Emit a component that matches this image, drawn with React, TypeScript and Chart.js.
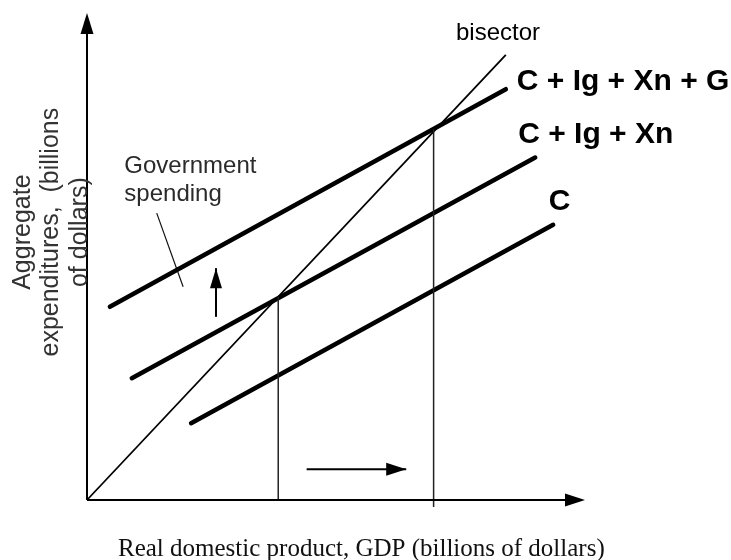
import React, { useEffect, useRef } from "react";
import { Chart, registerables } from "chart.js";

Chart.register(...registerables);

// ---- Axis ranges (billions of dollars) ----
const X_MAX = 100;
const Y_MAX = 92;

// ---- Schedules (x = real GDP, y = aggregate expenditures) ----
const bisectorPts = [
  { x: 0, y: 0 },
  { x: 84.1, y: 84.1 },
];
const consumptionPts = [
  { x: 20.9, y: 14.5 },
  { x: 93.6, y: 52.0 },
];
const cIgXnPts = [
  { x: 9.0, y: 23.0 },
  { x: 90.0, y: 64.7 },
];
const cIgXnGPts = [
  { x: 4.6, y: 36.5 },
  { x: 84.1, y: 77.6 },
];

// ---- Equilibrium output levels ----
const equilibriumGDP = [38.4, 69.6];
const equilibriumTop = [38.4, 70.0];
const equilibriumBottom = [0, -1.3];

// ---- Annotation marks ----
const leaderPts = [
  { x: 14.0, y: 54.2 },
  { x: 19.3, y: 40.3 },
];
const upArrowPts = [
  { x: 25.9, y: 34.6 },
  { x: 25.9, y: 43.8 },
];
const rightArrowPts = [
  { x: 44.1, y: 5.8 },
  { x: 64.1, y: 5.8 },
];

// ---- Texts ----
const curveLabels = ["bisector", "C + Ig + Xn + G", "C + Ig + Xn", "C"];
const curveLabelX = [74.1, 86.3, 86.6, 92.7];
const curveLabelY = [86.9, 77.5, 67.4, 54.8];
const govLabel = ["Government", "spending"];
const govLabelX = 7.5;
const govLabelY = [61.7, 56.4];
const yTitle = ["Aggregate", "expenditures,  (billions", "of dollars)"];
const yTitleCenter = 50.6;
const xTitle = "Real domestic product, GDP (billions of dollars)";

const SANS = '"Liberation Sans", Arial, Helvetica, sans-serif';
const SERIF = '"Liberation Serif", "Times New Roman", Times, serif';

function arrowHead(
  ctx: CanvasRenderingContext2D,
  tx: number,
  ty: number,
  dx: number,
  dy: number,
  len: number,
  half: number
) {
  const bx = tx - dx * len;
  const by = ty - dy * len;
  const px = -dy;
  const py = dx;
  ctx.beginPath();
  ctx.moveTo(tx, ty);
  ctx.lineTo(bx + px * half, by + py * half);
  ctx.lineTo(bx - px * half, by - py * half);
  ctx.closePath();
  ctx.fill();
}

const annotationPlugin = {
  id: "annotations",
  afterDatasetsDraw(chart: any) {
    const { ctx, scales, chartArea } = chart;
    const xs = scales.x;
    const ys = scales.y;
    const X = (v: number) => xs.getPixelForValue(v);
    const Y = (v: number) => ys.getPixelForValue(v);
    ctx.save();
    ctx.fillStyle = "#000";
    // axis arrow heads
    arrowHead(ctx, X(X_MAX), Y(0), 1, 0, 20, 6.5);
    arrowHead(ctx, X(0), Y(Y_MAX), 0, -1, 21, 6.5);
    // shift arrows
    const up = upArrowPts[1];
    arrowHead(ctx, X(up.x), Y(up.y), 0, -1, 20, 6);
    const rt = rightArrowPts[1];
    arrowHead(ctx, X(rt.x), Y(rt.y), 1, 0, 20, 6.5);

    // curve labels
    ctx.textAlign = "left";
    ctx.textBaseline = "alphabetic";
    curveLabels.forEach((t, i) => {
      ctx.font = i === 0 ? `24px ${SANS}` : `bold 30px ${SANS}`;
      ctx.fillStyle = "#000";
      ctx.fillText(t, X(curveLabelX[i]), Y(curveLabelY[i]));
    });

    // government spending label
    ctx.font = `24px ${SANS}`;
    ctx.fillStyle = "#2b2b2b";
    govLabel.forEach((t, i) => {
      ctx.fillText(t, X(govLabelX), Y(govLabelY[i]));
    });

    // y-axis title (rotated)
    ctx.font = `25px ${SANS}`;
    ctx.fillStyle = "#333";
    ctx.textAlign = "center";
    const baseOffsets = [-57, -29.5, 0.3];
    yTitle.forEach((t, i) => {
      ctx.save();
      ctx.translate(chartArea.left + baseOffsets[i], Y(yTitleCenter));
      ctx.rotate(-Math.PI / 2);
      ctx.fillText(t, 0, 0);
      ctx.restore();
    });

    // x-axis title
    ctx.font = `25px ${SERIF}`;
    ctx.fillStyle = "#111";
    ctx.textAlign = "left";
    ctx.fillText(xTitle, chartArea.left + 31, chartArea.bottom + 56);
    ctx.restore();
  },
};

function seg(
  data: { x: number; y: number }[],
  width: number,
  cap: CanvasLineCap = "butt",
  color = "#000"
) {
  return {
    type: "line" as const,
    data,
    borderColor: color,
    borderWidth: width,
    borderCapStyle: cap,
    pointRadius: 0,
    fill: false,
    tension: 0,
    clip: false as any,
  };
}

export default function App() {
  const canvasRef = useRef<HTMLCanvasElement | null>(null);

  useEffect(() => {
    if (!canvasRef.current) return;
    const datasets = [
      // axes
      seg([{ x: 0, y: 0 }, { x: X_MAX - 1, y: 0 }], 2),
      seg([{ x: 0, y: 0 }, { x: 0, y: Y_MAX - 1 }], 2),
      // equilibrium verticals
      ...equilibriumGDP.map((g, i) =>
        seg(
          [
            { x: g, y: equilibriumBottom[i] },
            { x: g, y: equilibriumTop[i] },
          ],
          1.5,
          "butt",
          "#222"
        )
      ),
      // bisector
      seg(bisectorPts, 1.8),
      // schedules
      seg(consumptionPts, 4.5, "round"),
      seg(cIgXnPts, 4.5, "round"),
      seg(cIgXnGPts, 4.5, "round"),
      // annotation lines
      seg(leaderPts, 1.2, "butt", "#111"),
      seg(upArrowPts, 2),
      seg(rightArrowPts, 2),
    ];
    const chart = new Chart(canvasRef.current, {
      type: "line",
      data: { datasets: datasets as any },
      options: {
        animation: false,
        responsive: false,
        events: [],
        layout: { padding: { left: 87, right: 146, top: 13, bottom: 60 } },
        plugins: {
          legend: { display: false },
          tooltip: { enabled: false },
        },
        scales: {
          x: { type: "linear", min: 0, max: X_MAX, display: false },
          y: { type: "linear", min: 0, max: Y_MAX, display: false },
        },
      },
      plugins: [annotationPlugin],
    });
    return () => chart.destroy();
  }, []);

  return (
    <div
      style={{
        position: "absolute",
        left: 0,
        top: 0,
        width: 731,
        height: 560,
        background: "#fff",
      }}
    >
      <canvas
        ref={canvasRef}
        width={731}
        height={560}
        style={{ display: "block", width: 731, height: 560 }}
      />
    </div>
  );
}
